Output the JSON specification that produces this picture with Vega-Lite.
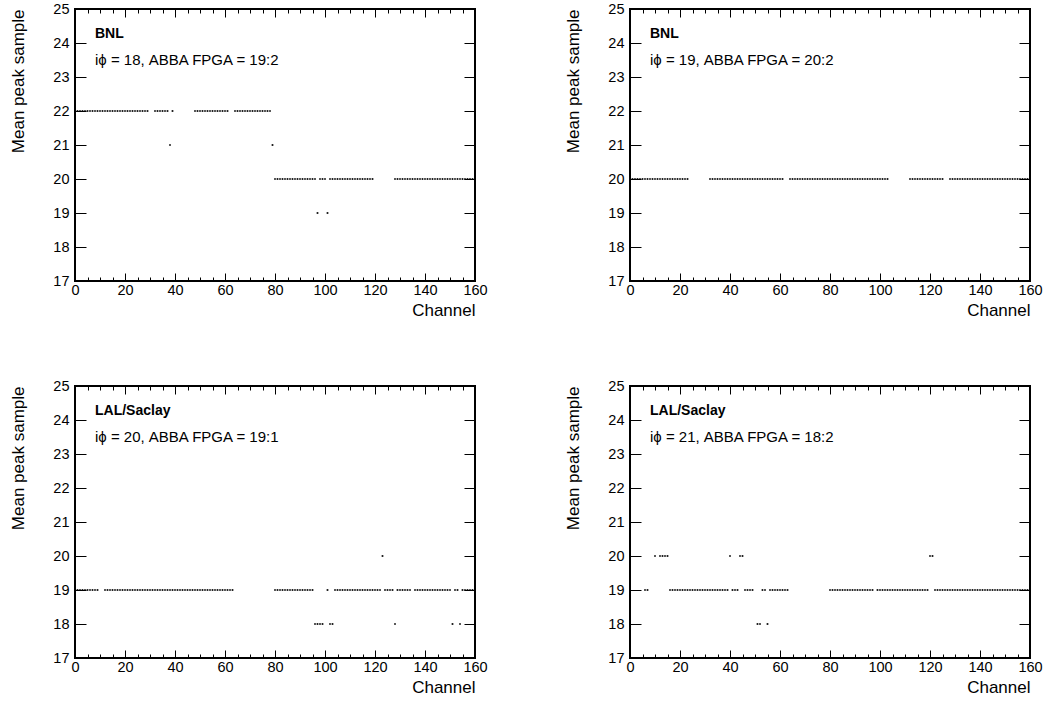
{
"$schema": "https://vega.github.io/schema/vega-lite/v6.json",
"background": "white",
"padding": {"left": 8, "top": 0, "right": 10, "bottom": 10},
"config": {
  "view": {"stroke": "black", "strokeWidth": 2},
  "axis": {"domain": false, "grid": false, "labelFont": "Liberation Sans", "labelFontSize": 14.5, "labelColor": "black", "tickColor": "black", "tickWidth": 1, "titleFont": "Liberation Sans", "titleFontSize": 17, "titleFontWeight": "normal", "titleColor": "black", "labelFlush": false, "labelOverlap": false}
},
"datasets": {
"p1": [
{"c":0,"v":22},{"c":1,"v":22},{"c":2,"v":22},{"c":3,"v":22},{"c":4,"v":22},{"c":5,"v":22},{"c":6,"v":22},{"c":7,"v":22},{"c":8,"v":22},{"c":9,"v":22},
{"c":10,"v":22},{"c":11,"v":22},{"c":12,"v":22},{"c":13,"v":22},{"c":14,"v":22},{"c":15,"v":22},{"c":16,"v":22},{"c":17,"v":22},{"c":18,"v":22},{"c":19,"v":22},
{"c":20,"v":22},{"c":21,"v":22},{"c":22,"v":22},{"c":23,"v":22},{"c":24,"v":22},{"c":25,"v":22},{"c":26,"v":22},{"c":27,"v":22},{"c":28,"v":22},{"c":29,"v":22},
{"c":32,"v":22},{"c":33,"v":22},{"c":34,"v":22},{"c":35,"v":22},{"c":36,"v":22},{"c":37,"v":22},{"c":38,"v":21},{"c":39,"v":22},
{"c":48,"v":22},{"c":49,"v":22},{"c":50,"v":22},{"c":51,"v":22},{"c":52,"v":22},{"c":53,"v":22},{"c":54,"v":22},{"c":55,"v":22},{"c":56,"v":22},{"c":57,"v":22},{"c":58,"v":22},{"c":59,"v":22},{"c":60,"v":22},{"c":61,"v":22},
{"c":64,"v":22},{"c":65,"v":22},{"c":66,"v":22},{"c":67,"v":22},{"c":68,"v":22},{"c":69,"v":22},{"c":70,"v":22},{"c":71,"v":22},{"c":72,"v":22},{"c":73,"v":22},{"c":74,"v":22},{"c":75,"v":22},{"c":76,"v":22},{"c":77,"v":22},{"c":78,"v":22},
{"c":79,"v":21},
{"c":80,"v":20},{"c":81,"v":20},{"c":82,"v":20},{"c":83,"v":20},{"c":84,"v":20},{"c":85,"v":20},{"c":86,"v":20},{"c":87,"v":20},{"c":88,"v":20},{"c":89,"v":20},{"c":90,"v":20},{"c":91,"v":20},{"c":92,"v":20},{"c":93,"v":20},{"c":94,"v":20},{"c":95,"v":20},{"c":96,"v":20},
{"c":97,"v":19},{"c":98,"v":20},{"c":99,"v":20},{"c":100,"v":20},{"c":101,"v":19},
{"c":102,"v":20},{"c":103,"v":20},{"c":104,"v":20},{"c":105,"v":20},{"c":106,"v":20},{"c":107,"v":20},{"c":108,"v":20},{"c":109,"v":20},{"c":110,"v":20},{"c":111,"v":20},{"c":112,"v":20},{"c":113,"v":20},{"c":114,"v":20},{"c":115,"v":20},{"c":116,"v":20},{"c":117,"v":20},{"c":118,"v":20},{"c":119,"v":20},
{"c":128,"v":20},{"c":129,"v":20},{"c":130,"v":20},{"c":131,"v":20},{"c":132,"v":20},{"c":133,"v":20},{"c":134,"v":20},{"c":135,"v":20},{"c":136,"v":20},{"c":137,"v":20},{"c":138,"v":20},{"c":139,"v":20},{"c":140,"v":20},{"c":141,"v":20},{"c":142,"v":20},{"c":143,"v":20},
{"c":144,"v":20},{"c":145,"v":20},{"c":146,"v":20},{"c":147,"v":20},{"c":148,"v":20},{"c":149,"v":20},{"c":150,"v":20},{"c":151,"v":20},{"c":152,"v":20},{"c":153,"v":20},{"c":154,"v":20},{"c":155,"v":20},{"c":156,"v":20},{"c":157,"v":20},{"c":158,"v":20},{"c":159,"v":20}
],
"p2": [
{"c":0,"v":20},{"c":1,"v":20},{"c":2,"v":20},{"c":3,"v":20},{"c":4,"v":20},{"c":5,"v":20},{"c":6,"v":20},{"c":7,"v":20},{"c":8,"v":20},{"c":9,"v":20},{"c":10,"v":20},{"c":11,"v":20},
{"c":12,"v":20},{"c":13,"v":20},{"c":14,"v":20},{"c":15,"v":20},{"c":16,"v":20},{"c":17,"v":20},{"c":18,"v":20},{"c":19,"v":20},{"c":20,"v":20},{"c":21,"v":20},{"c":22,"v":20},{"c":23,"v":20},
{"c":32,"v":20},{"c":33,"v":20},{"c":34,"v":20},{"c":35,"v":20},{"c":36,"v":20},{"c":37,"v":20},{"c":38,"v":20},{"c":39,"v":20},{"c":40,"v":20},{"c":41,"v":20},{"c":42,"v":20},{"c":43,"v":20},{"c":44,"v":20},{"c":45,"v":20},{"c":46,"v":20},
{"c":47,"v":20},{"c":48,"v":20},{"c":49,"v":20},{"c":50,"v":20},{"c":51,"v":20},{"c":52,"v":20},{"c":53,"v":20},{"c":54,"v":20},{"c":55,"v":20},{"c":56,"v":20},{"c":57,"v":20},{"c":58,"v":20},{"c":59,"v":20},{"c":60,"v":20},{"c":61,"v":20},
{"c":64,"v":20},{"c":65,"v":20},{"c":66,"v":20},{"c":67,"v":20},{"c":68,"v":20},{"c":69,"v":20},{"c":70,"v":20},{"c":71,"v":20},{"c":72,"v":20},{"c":73,"v":20},{"c":74,"v":20},{"c":75,"v":20},{"c":76,"v":20},{"c":77,"v":20},{"c":78,"v":20},{"c":79,"v":20},
{"c":80,"v":20},{"c":81,"v":20},{"c":82,"v":20},{"c":83,"v":20},{"c":84,"v":20},{"c":85,"v":20},{"c":86,"v":20},{"c":87,"v":20},{"c":88,"v":20},{"c":89,"v":20},{"c":90,"v":20},{"c":91,"v":20},{"c":92,"v":20},{"c":93,"v":20},{"c":94,"v":20},{"c":95,"v":20},
{"c":96,"v":20},{"c":97,"v":20},{"c":98,"v":20},{"c":99,"v":20},{"c":100,"v":20},{"c":101,"v":20},{"c":102,"v":20},{"c":103,"v":20},
{"c":112,"v":20},{"c":113,"v":20},{"c":114,"v":20},{"c":115,"v":20},{"c":116,"v":20},{"c":117,"v":20},{"c":118,"v":20},{"c":119,"v":20},{"c":120,"v":20},{"c":121,"v":20},{"c":122,"v":20},{"c":123,"v":20},{"c":124,"v":20},{"c":125,"v":20},
{"c":128,"v":20},{"c":129,"v":20},{"c":130,"v":20},{"c":131,"v":20},{"c":132,"v":20},{"c":133,"v":20},{"c":134,"v":20},{"c":135,"v":20},{"c":136,"v":20},{"c":137,"v":20},{"c":138,"v":20},{"c":139,"v":20},{"c":140,"v":20},{"c":141,"v":20},{"c":142,"v":20},{"c":143,"v":20},
{"c":144,"v":20},{"c":145,"v":20},{"c":146,"v":20},{"c":147,"v":20},{"c":148,"v":20},{"c":149,"v":20},{"c":150,"v":20},{"c":151,"v":20},{"c":152,"v":20},{"c":153,"v":20},{"c":154,"v":20},{"c":155,"v":20},{"c":156,"v":20},{"c":157,"v":20},{"c":158,"v":20},{"c":159,"v":20}
],
"p3": [
{"c":0,"v":19},{"c":1,"v":19},{"c":2,"v":19},{"c":3,"v":19},{"c":4,"v":19},{"c":5,"v":19},{"c":6,"v":19},{"c":7,"v":19},{"c":8,"v":19},{"c":9,"v":19},
{"c":12,"v":19},{"c":13,"v":19},{"c":14,"v":19},{"c":15,"v":19},{"c":16,"v":19},{"c":17,"v":19},{"c":18,"v":19},{"c":19,"v":19},{"c":20,"v":19},{"c":21,"v":19},{"c":22,"v":19},{"c":23,"v":19},{"c":24,"v":19},{"c":25,"v":19},{"c":26,"v":19},{"c":27,"v":19},
{"c":28,"v":19},{"c":29,"v":19},{"c":30,"v":19},{"c":31,"v":19},{"c":32,"v":19},{"c":33,"v":19},{"c":34,"v":19},{"c":35,"v":19},{"c":36,"v":19},{"c":37,"v":19},{"c":38,"v":19},{"c":39,"v":19},{"c":40,"v":19},{"c":41,"v":19},{"c":42,"v":19},{"c":43,"v":19},
{"c":44,"v":19},{"c":45,"v":19},{"c":46,"v":19},{"c":47,"v":19},{"c":48,"v":19},{"c":49,"v":19},{"c":50,"v":19},{"c":51,"v":19},{"c":52,"v":19},{"c":53,"v":19},{"c":54,"v":19},{"c":55,"v":19},{"c":56,"v":19},{"c":57,"v":19},{"c":58,"v":19},{"c":59,"v":19},
{"c":60,"v":19},{"c":61,"v":19},{"c":62,"v":19},{"c":63,"v":19},
{"c":80,"v":19},{"c":81,"v":19},{"c":82,"v":19},{"c":83,"v":19},{"c":84,"v":19},{"c":85,"v":19},{"c":86,"v":19},{"c":87,"v":19},{"c":88,"v":19},{"c":89,"v":19},{"c":90,"v":19},{"c":91,"v":19},{"c":92,"v":19},{"c":93,"v":19},{"c":94,"v":19},{"c":95,"v":19},
{"c":96,"v":18},{"c":97,"v":18},{"c":98,"v":18},{"c":99,"v":18},{"c":101,"v":19},{"c":102,"v":18},{"c":103,"v":18},
{"c":104,"v":19},{"c":105,"v":19},{"c":106,"v":19},{"c":107,"v":19},{"c":108,"v":19},{"c":109,"v":19},{"c":110,"v":19},{"c":111,"v":19},{"c":112,"v":19},{"c":113,"v":19},{"c":114,"v":19},{"c":115,"v":19},{"c":116,"v":19},{"c":117,"v":19},{"c":118,"v":19},{"c":119,"v":19},
{"c":120,"v":19},{"c":121,"v":19},{"c":122,"v":19},{"c":123,"v":20},{"c":124,"v":19},{"c":125,"v":19},{"c":126,"v":19},{"c":127,"v":19},{"c":128,"v":18},
{"c":129,"v":19},{"c":130,"v":19},{"c":131,"v":19},{"c":132,"v":19},{"c":133,"v":19},{"c":134,"v":19},
{"c":136,"v":19},{"c":137,"v":19},{"c":138,"v":19},{"c":139,"v":19},{"c":140,"v":19},{"c":141,"v":19},{"c":142,"v":19},{"c":143,"v":19},{"c":144,"v":19},{"c":145,"v":19},{"c":146,"v":19},{"c":147,"v":19},{"c":148,"v":19},{"c":149,"v":19},{"c":150,"v":19},
{"c":151,"v":18},{"c":152,"v":19},{"c":153,"v":19},{"c":154,"v":18},{"c":155,"v":19},{"c":156,"v":19},{"c":157,"v":19},{"c":158,"v":19},{"c":159,"v":19}
],
"p4": [
{"c":6,"v":19},{"c":7,"v":19},{"c":10,"v":20},{"c":12,"v":20},{"c":13,"v":20},{"c":14,"v":20},{"c":15,"v":20},
{"c":16,"v":19},{"c":17,"v":19},{"c":18,"v":19},{"c":19,"v":19},{"c":20,"v":19},{"c":21,"v":19},{"c":22,"v":19},{"c":23,"v":19},{"c":24,"v":19},{"c":25,"v":19},{"c":26,"v":19},{"c":27,"v":19},
{"c":28,"v":19},{"c":29,"v":19},{"c":30,"v":19},{"c":31,"v":19},{"c":32,"v":19},{"c":33,"v":19},{"c":34,"v":19},{"c":35,"v":19},{"c":36,"v":19},{"c":37,"v":19},{"c":38,"v":19},{"c":39,"v":19},
{"c":40,"v":20},{"c":41,"v":19},{"c":42,"v":19},{"c":43,"v":19},{"c":44,"v":20},{"c":45,"v":20},{"c":46,"v":19},{"c":47,"v":19},{"c":48,"v":19},{"c":49,"v":19},
{"c":51,"v":18},{"c":52,"v":18},{"c":53,"v":19},{"c":54,"v":19},{"c":55,"v":18},
{"c":56,"v":19},{"c":57,"v":19},{"c":58,"v":19},{"c":59,"v":19},{"c":60,"v":19},{"c":61,"v":19},{"c":62,"v":19},{"c":63,"v":19},
{"c":80,"v":19},{"c":81,"v":19},{"c":82,"v":19},{"c":83,"v":19},{"c":84,"v":19},{"c":85,"v":19},{"c":86,"v":19},{"c":87,"v":19},{"c":88,"v":19},{"c":89,"v":19},{"c":90,"v":19},{"c":91,"v":19},{"c":92,"v":19},{"c":93,"v":19},{"c":94,"v":19},{"c":95,"v":19},{"c":96,"v":19},{"c":97,"v":19},
{"c":99,"v":19},{"c":100,"v":19},{"c":101,"v":19},{"c":102,"v":19},{"c":103,"v":19},{"c":104,"v":19},{"c":105,"v":19},{"c":106,"v":19},{"c":107,"v":19},{"c":108,"v":19},{"c":109,"v":19},{"c":110,"v":19},{"c":111,"v":19},{"c":112,"v":19},{"c":113,"v":19},{"c":114,"v":19},
{"c":115,"v":19},{"c":116,"v":19},{"c":117,"v":19},{"c":118,"v":19},{"c":119,"v":19},{"c":120,"v":20},{"c":121,"v":20},
{"c":122,"v":19},{"c":123,"v":19},{"c":124,"v":19},{"c":125,"v":19},{"c":126,"v":19},{"c":127,"v":19},{"c":128,"v":19},{"c":129,"v":19},{"c":130,"v":19},{"c":131,"v":19},{"c":132,"v":19},{"c":133,"v":19},{"c":134,"v":19},{"c":135,"v":19},{"c":136,"v":19},{"c":137,"v":19},
{"c":138,"v":19},{"c":139,"v":19},{"c":140,"v":19},{"c":141,"v":19},{"c":142,"v":19},{"c":143,"v":19},{"c":144,"v":19},{"c":145,"v":19},{"c":146,"v":19},{"c":147,"v":19},{"c":148,"v":19},{"c":149,"v":19},{"c":150,"v":19},{"c":151,"v":19},{"c":152,"v":19},{"c":153,"v":19},
{"c":154,"v":19},{"c":155,"v":19},{"c":156,"v":19},{"c":157,"v":19},{"c":158,"v":19},{"c":159,"v":19}
]
},
"vconcat": [
{"hconcat": [
{"width": 400, "height": 272, "data": {"name": "p1"},
 "layer": [
  {"mark": {"type": "square", "size": 3, "color": "black", "opacity": 1},
   "encoding": {
    "x": {"field": "c", "type": "quantitative", "scale": {"domain": [0, 160], "nice": false, "zero": false}, "axis": {"orient": "bottom", "values": [0,20,40,60,80,100,120,140,160], "tickSize": -8, "labelPadding": 10, "title": "Channel", "titleAnchor": "end", "titlePadding": 6}},
    "y": {"field": "v", "type": "quantitative", "scale": {"domain": [17, 25], "nice": false, "zero": false}, "axis": {"orient": "left", "values": [17,18,19,20,21,22,23,24,25], "tickSize": -11, "labelPadding": 17, "title": "Mean peak sample", "titleAnchor": "end", "titlePadding": 25}}}},
  {"data": {"values": [{}]}, "mark": {"type": "text", "text": "BNL", "font": "Liberation Sans", "fontWeight": "bold", "fontSize": 14, "align": "left", "baseline": "alphabetic", "color": "black"},
   "encoding": {
    "x": {"datum": 8, "type": "quantitative", "axis": {"orient": "bottom", "values": [5,10,15,25,30,35,45,50,55,65,70,75,85,90,95,105,110,115,125,130,135,145,150,155], "tickSize": -4, "labels": false, "title": null}},
    "y": {"datum": 24.15, "type": "quantitative", "axis": {"orient": "right", "values": [17,18,19,20,21,22,23,24,25], "tickSize": -11, "labels": false, "title": null}}}},
  {"data": {"values": [{}]}, "mark": {"type": "text", "text": "iϕ = 18, ABBA FPGA = 19:2", "font": "Liberation Sans", "fontSize": 15, "align": "left", "baseline": "alphabetic", "color": "black"},
   "encoding": {
    "x": {"datum": 8, "type": "quantitative", "axis": {"orient": "top", "values": [0,20,40,60,80,100,120,140,160], "tickSize": -8, "labels": false, "title": null}},
    "y": {"datum": 23.34, "type": "quantitative", "axis": null}}},
  {"data": {"values": [{}]}, "mark": {"type": "text", "text": ""},
   "encoding": {
    "x": {"datum": 8, "type": "quantitative", "axis": {"orient": "top", "values": [5,10,15,25,30,35,45,50,55,65,70,75,85,90,95,105,110,115,125,130,135,145,150,155], "tickSize": -4, "labels": false, "title": null}},
    "y": {"datum": 23.34, "type": "quantitative", "axis": null}}}
 ],
 "resolve": {"axis": {"x": "independent", "y": "independent"}}},
{"width": 400, "height": 272, "data": {"name": "p2"},
 "layer": [
  {"mark": {"type": "square", "size": 3, "color": "black", "opacity": 1},
   "encoding": {
    "x": {"field": "c", "type": "quantitative", "scale": {"domain": [0, 160], "nice": false, "zero": false}, "axis": {"orient": "bottom", "values": [0,20,40,60,80,100,120,140,160], "tickSize": -8, "labelPadding": 10, "title": "Channel", "titleAnchor": "end", "titlePadding": 6}},
    "y": {"field": "v", "type": "quantitative", "scale": {"domain": [17, 25], "nice": false, "zero": false}, "axis": {"orient": "left", "values": [17,18,19,20,21,22,23,24,25], "tickSize": -11, "labelPadding": 17, "title": "Mean peak sample", "titleAnchor": "end", "titlePadding": 25}}}},
  {"data": {"values": [{}]}, "mark": {"type": "text", "text": "BNL", "font": "Liberation Sans", "fontWeight": "bold", "fontSize": 14, "align": "left", "baseline": "alphabetic", "color": "black"},
   "encoding": {
    "x": {"datum": 8, "type": "quantitative", "axis": {"orient": "bottom", "values": [5,10,15,25,30,35,45,50,55,65,70,75,85,90,95,105,110,115,125,130,135,145,150,155], "tickSize": -4, "labels": false, "title": null}},
    "y": {"datum": 24.15, "type": "quantitative", "axis": {"orient": "right", "values": [17,18,19,20,21,22,23,24,25], "tickSize": -11, "labels": false, "title": null}}}},
  {"data": {"values": [{}]}, "mark": {"type": "text", "text": "iϕ = 19, ABBA FPGA = 20:2", "font": "Liberation Sans", "fontSize": 15, "align": "left", "baseline": "alphabetic", "color": "black"},
   "encoding": {
    "x": {"datum": 8, "type": "quantitative", "axis": {"orient": "top", "values": [0,20,40,60,80,100,120,140,160], "tickSize": -8, "labels": false, "title": null}},
    "y": {"datum": 23.34, "type": "quantitative", "axis": null}}},
  {"data": {"values": [{}]}, "mark": {"type": "text", "text": ""},
   "encoding": {
    "x": {"datum": 8, "type": "quantitative", "axis": {"orient": "top", "values": [5,10,15,25,30,35,45,50,55,65,70,75,85,90,95,105,110,115,125,130,135,145,150,155], "tickSize": -4, "labels": false, "title": null}},
    "y": {"datum": 23.34, "type": "quantitative", "axis": null}}}
 ],
 "resolve": {"axis": {"x": "independent", "y": "independent"}}}
], "spacing": 155, "bounds": "flush"},
{"hconcat": [
{"width": 400, "height": 272, "data": {"name": "p3"},
 "layer": [
  {"mark": {"type": "square", "size": 3, "color": "black", "opacity": 1},
   "encoding": {
    "x": {"field": "c", "type": "quantitative", "scale": {"domain": [0, 160], "nice": false, "zero": false}, "axis": {"orient": "bottom", "values": [0,20,40,60,80,100,120,140,160], "tickSize": -8, "labelPadding": 10, "title": "Channel", "titleAnchor": "end", "titlePadding": 6}},
    "y": {"field": "v", "type": "quantitative", "scale": {"domain": [17, 25], "nice": false, "zero": false}, "axis": {"orient": "left", "values": [17,18,19,20,21,22,23,24,25], "tickSize": -11, "labelPadding": 17, "title": "Mean peak sample", "titleAnchor": "end", "titlePadding": 25}}}},
  {"data": {"values": [{}]}, "mark": {"type": "text", "text": "LAL/Saclay", "font": "Liberation Sans", "fontWeight": "bold", "fontSize": 14, "align": "left", "baseline": "alphabetic", "color": "black"},
   "encoding": {
    "x": {"datum": 8, "type": "quantitative", "axis": {"orient": "bottom", "values": [5,10,15,25,30,35,45,50,55,65,70,75,85,90,95,105,110,115,125,130,135,145,150,155], "tickSize": -4, "labels": false, "title": null}},
    "y": {"datum": 24.15, "type": "quantitative", "axis": {"orient": "right", "values": [17,18,19,20,21,22,23,24,25], "tickSize": -11, "labels": false, "title": null}}}},
  {"data": {"values": [{}]}, "mark": {"type": "text", "text": "iϕ = 20, ABBA FPGA = 19:1", "font": "Liberation Sans", "fontSize": 15, "align": "left", "baseline": "alphabetic", "color": "black"},
   "encoding": {
    "x": {"datum": 8, "type": "quantitative", "axis": {"orient": "top", "values": [0,20,40,60,80,100,120,140,160], "tickSize": -8, "labels": false, "title": null}},
    "y": {"datum": 23.34, "type": "quantitative", "axis": null}}},
  {"data": {"values": [{}]}, "mark": {"type": "text", "text": ""},
   "encoding": {
    "x": {"datum": 8, "type": "quantitative", "axis": {"orient": "top", "values": [5,10,15,25,30,35,45,50,55,65,70,75,85,90,95,105,110,115,125,130,135,145,150,155], "tickSize": -4, "labels": false, "title": null}},
    "y": {"datum": 23.34, "type": "quantitative", "axis": null}}}
 ],
 "resolve": {"axis": {"x": "independent", "y": "independent"}}},
{"width": 400, "height": 272, "data": {"name": "p4"},
 "layer": [
  {"mark": {"type": "square", "size": 3, "color": "black", "opacity": 1},
   "encoding": {
    "x": {"field": "c", "type": "quantitative", "scale": {"domain": [0, 160], "nice": false, "zero": false}, "axis": {"orient": "bottom", "values": [0,20,40,60,80,100,120,140,160], "tickSize": -8, "labelPadding": 10, "title": "Channel", "titleAnchor": "end", "titlePadding": 6}},
    "y": {"field": "v", "type": "quantitative", "scale": {"domain": [17, 25], "nice": false, "zero": false}, "axis": {"orient": "left", "values": [17,18,19,20,21,22,23,24,25], "tickSize": -11, "labelPadding": 17, "title": "Mean peak sample", "titleAnchor": "end", "titlePadding": 25}}}},
  {"data": {"values": [{}]}, "mark": {"type": "text", "text": "LAL/Saclay", "font": "Liberation Sans", "fontWeight": "bold", "fontSize": 14, "align": "left", "baseline": "alphabetic", "color": "black"},
   "encoding": {
    "x": {"datum": 8, "type": "quantitative", "axis": {"orient": "bottom", "values": [5,10,15,25,30,35,45,50,55,65,70,75,85,90,95,105,110,115,125,130,135,145,150,155], "tickSize": -4, "labels": false, "title": null}},
    "y": {"datum": 24.15, "type": "quantitative", "axis": {"orient": "right", "values": [17,18,19,20,21,22,23,24,25], "tickSize": -11, "labels": false, "title": null}}}},
  {"data": {"values": [{}]}, "mark": {"type": "text", "text": "iϕ = 21, ABBA FPGA = 18:2", "font": "Liberation Sans", "fontSize": 15, "align": "left", "baseline": "alphabetic", "color": "black"},
   "encoding": {
    "x": {"datum": 8, "type": "quantitative", "axis": {"orient": "top", "values": [0,20,40,60,80,100,120,140,160], "tickSize": -8, "labels": false, "title": null}},
    "y": {"datum": 23.34, "type": "quantitative", "axis": null}}},
  {"data": {"values": [{}]}, "mark": {"type": "text", "text": ""},
   "encoding": {
    "x": {"datum": 8, "type": "quantitative", "axis": {"orient": "top", "values": [5,10,15,25,30,35,45,50,55,65,70,75,85,90,95,105,110,115,125,130,135,145,150,155], "tickSize": -4, "labels": false, "title": null}},
    "y": {"datum": 23.34, "type": "quantitative", "axis": null}}}
 ],
 "resolve": {"axis": {"x": "independent", "y": "independent"}}}
], "spacing": 155, "bounds": "flush"}
],
"spacing": 377,
"bounds": "flush"
}
